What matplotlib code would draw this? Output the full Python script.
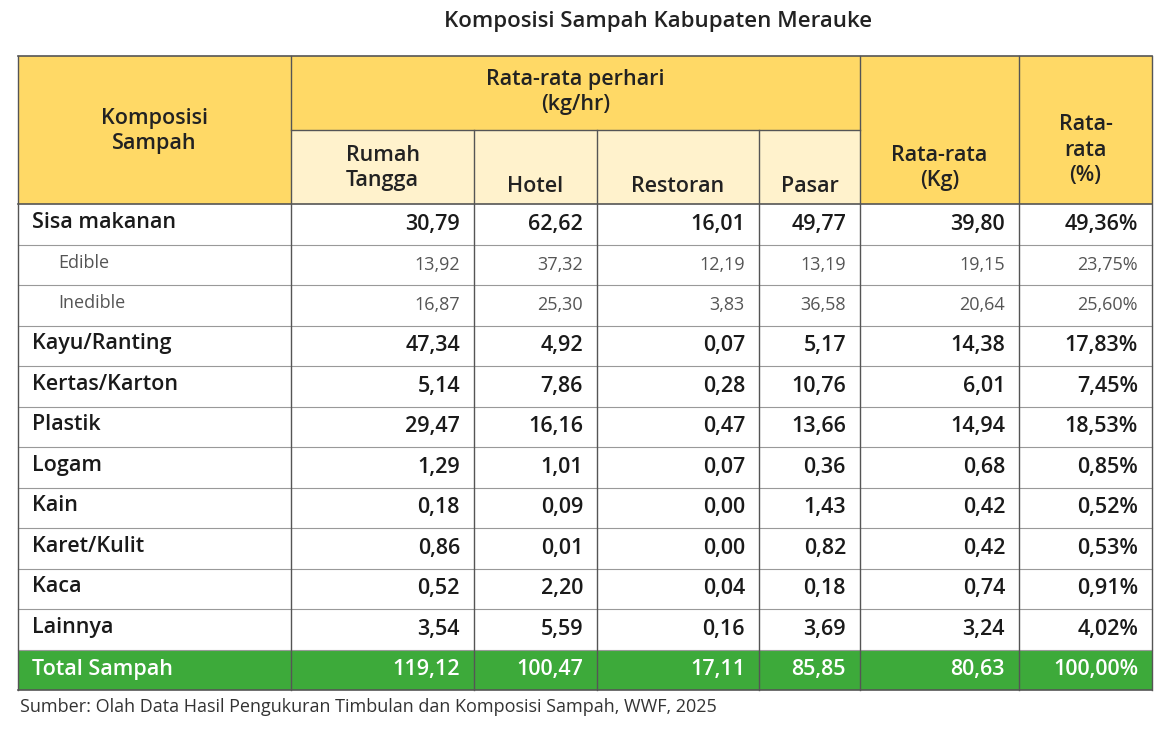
import matplotlib.pyplot as plt
import matplotlib.patches as mpatches

plt.rcParams['font.family'] = ['Open Sans', 'DejaVu Sans']

title = 'Komposisi Sampah Kabupaten Merauke'
source = 'Sumber: Olah Data Hasil Pengukuran Timbulan dan Komposisi Sampah, WWF, 2025'
row_names = ['Sisa makanan', 'Edible', 'Inedible', 'Kayu/Ranting', 'Kertas/Karton',
             'Plastik', 'Logam', 'Kain', 'Karet/Kulit', 'Kaca', 'Lainnya']
sub_rows = [False, True, True, False, False, False, False, False, False, False, False]
rumah = ['30,79', '13,92', '16,87', '47,34', '5,14', '29,47', '1,29', '0,18', '0,86', '0,52', '3,54']
hotel = ['62,62', '37,32', '25,30', '4,92', '7,86', '16,16', '1,01', '0,09', '0,01', '2,20', '5,59']
restoran = ['16,01', '12,19', '3,83', '0,07', '0,28', '0,47', '0,07', '0,00', '0,00', '0,04', '0,16']
pasar = ['49,77', '13,19', '36,58', '5,17', '10,76', '13,66', '0,36', '1,43', '0,82', '0,18', '3,69']
rata_kg = ['39,80', '19,15', '20,64', '14,38', '6,01', '14,94', '0,68', '0,42', '0,42', '0,74', '3,24']
rata_pct = ['49,36%', '23,75%', '25,60%', '17,83%', '7,45%', '18,53%', '0,85%', '0,52%', '0,53%', '0,91%', '4,02%']
total = ['Total Sampah', '119,12', '100,47', '17,11', '85,85', '80,63', '100,00%']

W, H = 1168, 734
fig = plt.figure(figsize=(W / 100, H / 100), dpi=100)
ax = fig.add_axes([0, 0, 1, 1])
ax.set_xlim(0, W)
ax.set_ylim(H, 0)
ax.axis('off')

xs = [18, 291, 474, 597, 759, 860, 1019, 1152]
y_head, y_mid, y_body = 56, 130, 204
row_h = 40.5
yellow, light_yellow, green = '#FFD966', '#FFF2CC', '#3DAA3A'
line_c = '#555555'

def rect(x0, y0, x1, y1, fc):
    ax.add_patch(mpatches.Rectangle((x0, y0), x1 - x0, y1 - y0, fc=fc, ec='none'))

# header
rect(xs[0], y_head, xs[-1], y_body, yellow)
rect(xs[1], y_mid, xs[5], y_body, light_yellow)
hk = dict(fontsize=15.5, fontweight='semibold', color='#222222')
ax.text((xs[0] + xs[1]) / 2, 131, 'Komposisi\nSampah', ha='center', va='center', linespacing=1.3, **hk)
ax.text((xs[1] + xs[5]) / 2, 92, 'Rata-rata perhari\n(kg/hr)', ha='center', va='center', linespacing=1.3, **hk)
ax.text((xs[1] + xs[2]) / 2, 168, 'Rumah\nTangga', ha='center', va='center', linespacing=1.3, **hk)
for i, lab in [(2, 'Hotel'), (3, 'Restoran'), (4, 'Pasar')]:
    ax.text((xs[i] + xs[i + 1]) / 2, 186, lab, ha='center', va='center', **hk)
ax.text((xs[5] + xs[6]) / 2, 168, 'Rata-rata\n(Kg)', ha='center', va='center', linespacing=1.3, **hk)
ax.text((xs[6] + xs[7]) / 2, 150, 'Rata-\nrata\n(%)', ha='center', va='center', linespacing=1.3, **hk)

# body rows
cols = [rumah, hotel, restoran, pasar, rata_kg, rata_pct]
for r, name in enumerate(row_names):
    yc = y_body + (r + 0.5) * row_h
    sub = sub_rows[r]
    kw = dict(fontsize=13, color='#555555') if sub else dict(fontsize=15.5, fontweight='semibold', color='#1a1a1a')
    ax.text(xs[0] + (40 if sub else 14), yc - 2, name, ha='left', va='center', **kw)
    for c, vals in enumerate(cols):
        ax.text(xs[c + 2] - 14, yc, vals[r], ha='right', va='center', **kw)
    ax.plot([xs[0], xs[-1]], [y_body + (r + 1) * row_h] * 2, color='#999999', lw=0.8)

y_tot = y_body + len(row_names) * row_h
rect(xs[0], y_tot, xs[-1], y_tot + row_h, green)
yc = y_tot + row_h / 2
ax.text(xs[0] + 14, yc, total[0], ha='left', va='center', fontsize=15.5, fontweight='semibold', color='white')
for c, v in enumerate(total[1:]):
    ax.text(xs[c + 2] - 14, yc, v, ha='right', va='center', fontsize=15.5, fontweight='semibold', color='white')

# grid lines
y_end = y_tot + row_h
for i, x in enumerate(xs):
    y0 = y_mid if i in (2, 3, 4) else y_head
    ax.plot([x, x], [y0, y_end], color=line_c, lw=1)
ax.plot([xs[0], xs[-1]], [y_head, y_head], color=line_c, lw=1.2)
ax.plot([xs[1], xs[5]], [y_mid, y_mid], color=line_c, lw=1)
ax.plot([xs[0], xs[-1]], [y_body, y_body], color=line_c, lw=1.2)
ax.plot([xs[0], xs[-1]], [y_end, y_end], color=line_c, lw=1.2)

ax.text(658, 22, title, ha='center', va='center', fontsize=16, fontweight='semibold', color='#222222')
ax.text(20, 707, source, ha='left', va='center', fontsize=13, color='#333333')

fig.savefig('out.png', dpi=100)
